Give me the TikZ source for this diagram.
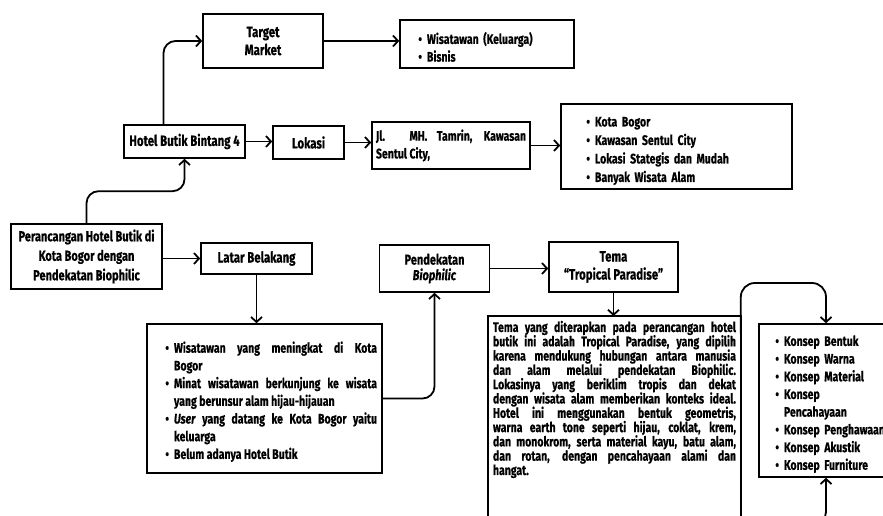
\documentclass[tikz,border=0pt]{standalone}
\usepackage{fontspec}
\setmainfont{Fira Sans}[FakeStretch=0.76,BoldFeatures={FakeBold=0.5},BoldItalicFeatures={FakeBold=0.5}]
\usepackage{enumitem}
\usetikzlibrary{arrows.meta}
\setlist[itemize]{nosep,label=\textbullet}

\tikzset{
  box/.style={draw,line width=1.6pt,inner sep=4pt,font=\bfseries\fontsize{15}{18}\selectfont},
  list/.style={box,font=\bfseries\fontsize{13.8}{17.7}\selectfont},
  arr/.style={line width=1.8pt,-{Straight Barb[length=5pt,width=11pt]}},
}

\begin{document}
\begin{tikzpicture}[x=1pt,y=-1pt]
\path[use as bounding box,clip] (0,0) rectangle (883,516);
\node[box,minimum width=120pt,minimum height=54pt,align=center] (tm) at (263,41) {Target\\Market};
\node[list,minimum width=174pt,minimum height=48pt,text width=164pt] (wis) at (487,44) {\begin{itemize}[leftmargin=22pt] \item Wisatawan (Keluarga) \item Bisnis \end{itemize}};
\node[box,minimum width=121pt,minimum height=33pt] (hotel) at (184.5,141.5) {Hotel Butik Bintang 4};
\node[box,minimum width=71pt,minimum height=33pt] (lok) at (308.5,142.5) {Lokasi};
\node[list,minimum width=158pt,minimum height=47pt,text width=150pt,align=justify] (jl) at (451,145.5) {Jl. MH. Tamrin, Kawasan\linebreak Sentul City,};
\node[list,minimum width=231pt,minimum height=83pt,text width=221pt,font=\bfseries\fontsize{13.8}{18.5}\selectfont] (kota) at (676.5,146.5) {\begin{itemize}[leftmargin=29pt] \item Kota Bogor \item Kawasan Sentul City \item Lokasi Stategis dan Mudah \item Banyak Wisata Alam \end{itemize}};
\node[box,minimum width=151pt,minimum height=65pt,align=center,font=\bfseries\fontsize{14.5}{19.5}\selectfont] (per) at (86.5,256.5) {Perancangan Hotel Butik di\\Kota Bogor dengan\\Pendekatan Biophilic};
\node[box,minimum width=111pt,minimum height=31pt] (lat) at (256.5,258.5) {Latar Belakang};
\node[list,minimum width=235pt,minimum height=149pt,text width=225pt,align=justify] (bul) at (264.5,398.5) {\begin{itemize}[leftmargin=22pt]
  \item Wisatawan yang meningkat di Kota\linebreak Bogor
  \item Minat wisatawan berkunjung ke wisata\linebreak yang berunsur alam hijau-hijauan
  \item \textit{User} yang datang ke Kota Bogor yaitu\linebreak keluarga
  \item Belum adanya Hotel Butik
\end{itemize}};
\node[box,minimum width=110pt,minimum height=47pt,align=center,font=\bfseries\fontsize{14.5}{15.5}\selectfont] (pen) at (434.5,268.5) {Pendekatan\\\textit{Biophilic}};
\node[box,minimum width=129pt,minimum height=50pt,align=center] (tema) at (613.5,267) {Tema\\“Tropical Paradise”};
\node[list,draw=none,anchor=north,minimum width=251pt,text width=243pt,align=justify,font=\bfseries\fontsize{13.8}{14.3}\selectfont] (tx) at (614.5,316) {Tema yang diterapkan pada perancangan hotel\linebreak
butik ini adalah Tropical Paradise, yang dipilih\linebreak
karena mendukung hubungan antara manusia\linebreak
dan alam melalui pendekatan Biophilic.\linebreak
Lokasinya yang beriklim tropis dan dekat\linebreak
dengan wisata alam memberikan konteks ideal.\linebreak
Hotel ini menggunakan bentuk geometris,\linebreak
warna earth tone seperti hijau, coklat, krem,\linebreak
dan monokrom, serta material kayu, batu alam,\linebreak
dan rotan, dengan pencahayaan alami dan\linebreak
hangat.};
\draw[line width=1.6pt] ([yshift=-60pt]tx.south west) -- (tx.north west) -- (tx.north east) -- ([yshift=-60pt]tx.south east);
\node[list,minimum width=134pt,minimum height=153pt,text width=126pt] (kon) at (826,400.5) {\begin{itemize}[leftmargin=21pt]
  \item Konsep Bentuk
  \item Konsep Warna
  \item Konsep Material
  \item Konsep\newline Pencahayaan
  \item Konsep Penghawaan
  \item Konsep Akustik
  \item Konsep Furniture
\end{itemize}};
\coordinate (b0) at (790,524);

\draw[arr,rounded corners=12pt] ([xshift=-21pt]hotel.north) |- (tm.west);
\draw[arr] (tm.east) -- (tm.east -| wis.west);
\draw[arr] (hotel.east) -- (hotel.east -| lok.west);
\draw[arr] (lok.east) -- (lok.east -| jl.west);
\draw[arr] (jl.east) -- (jl.east -| kota.west);
\draw[arr,rounded corners=12pt] (per.north) -- ++(0,-32) -| (hotel.south);
\draw[arr] (per.east |- lat.west) -- (lat.west);
\draw[arr] (lat.south) -- (lat.south |- bul.north);
\draw[arr,rounded corners=12pt] (bul.east) -| (pen.south);
\draw[arr] (pen.east) -- (pen.east -| tema.west);
\draw[arr] (tema.south) -- (tema.south |- tx.north);
\draw[arr,rounded corners=14pt] ([yshift=-18pt]tx.north east) -- ++(0,-51) -| (kon.north);
\draw[arr,rounded corners=12pt] (b0) -| (kon.south);
\end{tikzpicture}
\end{document}
